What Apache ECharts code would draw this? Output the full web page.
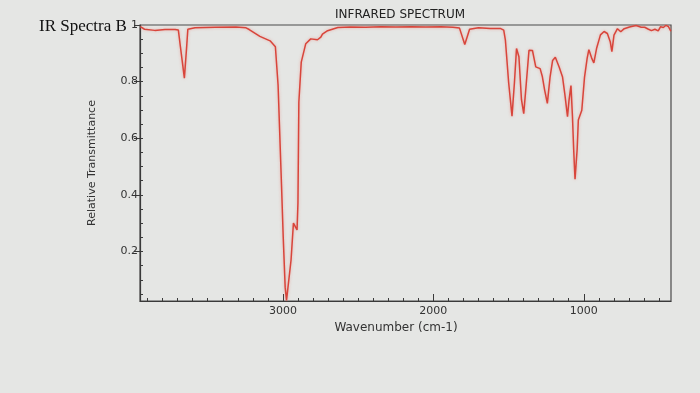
<!DOCTYPE html>
<html>
<head>
<meta charset="utf-8">
<script src="https://cdn.jsdelivr.net/npm/echarts@6/dist/echarts.min.js"></script>
<style>
  html, body { margin: 0; padding: 0; background: #e5e6e4; }
  #chart { width: 700px; height: 393px; }
</style>
</head>
<body>
<div id="chart"></div>
<script>
// Wavenumber (cm-1) and relative transmittance
const wavenumbers = [
  3948, 3920, 3852, 3784, 3717, 3695, 3681, 3655, 3640, 3632,
  3584, 3450, 3312, 3245, 3224, 3153, 3085, 3050, 3032, 3009,
  2998, 2985, 2976, 2964, 2946, 2930, 2919, 2906, 2900, 2897,
  2894, 2878, 2848, 2815, 2770, 2748, 2737, 2703, 2635, 2550,
  2450, 2350, 2250, 2150, 2050, 1950, 1870, 1826, 1791, 1759,
  1700, 1622, 1555, 1532, 1521, 1499, 1477, 1461, 1447, 1431,
  1414, 1399, 1382, 1364, 1341, 1319, 1290, 1275, 1260, 1242,
  1224, 1207, 1189, 1163, 1141, 1126, 1108, 1098, 1085, 1075,
  1067, 1058, 1044, 1036, 1025, 1013, 995, 977, 966, 948,
  933, 914, 889, 865, 843, 824, 813, 799, 776, 754,
  731, 696, 652, 618, 595, 573, 550, 527, 505, 489,
  471, 453, 437, 421
];
const transmittance = [
  0.994, 0.985, 0.981, 0.984, 0.984, 0.982, 0.922, 0.812, 0.922, 0.985,
  0.990, 0.992, 0.993, 0.990, 0.984, 0.960, 0.944, 0.923, 0.787, 0.430,
  0.252, 0.074, 0.027, 0.028, 0.169, 0.300, 0.305, 0.276, 0.371, 0.549,
  0.727, 0.869, 0.934, 0.951, 0.948, 0.957, 0.968, 0.980, 0.991, 0.993,
  0.992, 0.994, 0.993, 0.994, 0.993, 0.994, 0.992, 0.989, 0.931, 0.985,
  0.990, 0.988, 0.988, 0.982, 0.947, 0.795, 0.678, 0.795, 0.917, 0.888,
  0.736, 0.687, 0.794, 0.911, 0.910, 0.852, 0.846, 0.817, 0.770, 0.723,
  0.816, 0.875, 0.886, 0.851, 0.816, 0.757, 0.676, 0.734, 0.786, 0.676,
  0.560, 0.455, 0.560, 0.664, 0.670, 0.699, 0.815, 0.884, 0.913, 0.884,
  0.866, 0.919, 0.965, 0.977, 0.970, 0.941, 0.906, 0.964, 0.987, 0.976,
  0.987, 0.993, 0.998, 0.992, 0.992, 0.986, 0.980, 0.985, 0.979, 0.994,
  0.991, 0.999, 0.994, 0.978
];

const xTickLabels = [3000, 2000, 1000];
const yTickLabels = [0.2, 0.4, 0.6, 0.8, 1];
const yMinorTicks = [0.05, 0.1, 0.15, 0.2, 0.25, 0.3, 0.35, 0.4, 0.45, 0.5, 0.55, 0.6, 0.65, 0.7, 0.75, 0.8, 0.85, 0.9, 0.95];
const xMinorTicks = [];
for (let w = 500; w <= 3900; w += 100) xMinorTicks.push(w);

const X_MIN = 420, X_MAX = 3950, Y_MIN = 0.025, Y_MAX = 1;

const points = wavenumbers.map((w, i) => [w, transmittance[i]]);

const chart = echarts.init(document.getElementById('chart'), null, { renderer: 'canvas' });
const axisColor = '#3a3a3a';
const labelFont = { color: '#333', fontFamily: 'DejaVu Sans', fontSize: 11 };

chart.setOption({
  backgroundColor: '#e5e6e4',
  animation: false,
  grid: {
    left: 140, right: 29, top: 25, bottom: 92,
    show: true, borderColor: '#4a4a4a', borderWidth: 1.2, backgroundColor: 'transparent'
  },
  xAxis: [
    {
      type: 'value', min: X_MIN, max: X_MAX, inverse: true, position: 'bottom',
      axisLine: { show: true, onZero: false, lineStyle: { color: axisColor, width: 1.2 } },
      axisTick: { show: true, inside: true, length: 7, customValues: xTickLabels, lineStyle: { color: axisColor } },
      axisLabel: { show: true, customValues: xTickLabels, margin: 5, ...labelFont, formatter: v => String(Math.round(v)) },
      splitLine: { show: false }
    },
    {
      type: 'value', min: X_MIN, max: X_MAX, inverse: true, position: 'bottom', gridIndex: 0,
      axisLine: { show: false, onZero: false },
      axisTick: { show: true, inside: true, length: 3, customValues: xMinorTicks, lineStyle: { color: axisColor } },
      axisLabel: { show: false },
      splitLine: { show: false }
    }
  ],
  yAxis: [
    {
      type: 'value', min: Y_MIN, max: Y_MAX, position: 'left',
      axisLine: { show: true, onZero: false, lineStyle: { color: axisColor, width: 1.2 } },
      axisTick: { show: true, inside: false, length: 6, customValues: yTickLabels, lineStyle: { color: axisColor } },
      axisLabel: {
        show: true, customValues: yTickLabels, margin: 2, ...labelFont,
        formatter: v => (Math.abs(v - 1) < 1e-9 ? '1' : v.toFixed(1))
      },
      splitLine: { show: false }
    },
    {
      type: 'value', min: Y_MIN, max: Y_MAX, position: 'left',
      axisLine: { show: false, onZero: false },
      axisTick: { show: true, inside: true, length: 3, customValues: yMinorTicks, lineStyle: { color: axisColor } },
      axisLabel: { show: false },
      splitLine: { show: false }
    }
  ],
  series: [{
    type: 'line',
    xAxisIndex: 0, yAxisIndex: 0,
    data: points,
    showSymbol: false,
    smooth: false,
    clip: true,
    lineStyle: { color: '#d8453b', width: 1.5, shadowColor: 'rgba(235,130,120,0.6)', shadowBlur: 3 }
  }],
  graphic: [
    { type: 'text', x: 400, y: 15, style: { text: 'INFRARED SPECTRUM', fill: '#222', font: '12px "DejaVu Sans"', align: 'center', verticalAlign: 'middle' } },
    { type: 'text', x: 39, y: 27, style: { text: 'IR Spectra B', fill: '#111', font: '17px "Liberation Serif"', align: 'left', verticalAlign: 'middle' } },
    { type: 'text', x: 92, y: 163, rotation: Math.PI / 2, style: { text: 'Relative Transmittance', fill: '#333', font: '11px "DejaVu Sans"', align: 'center', verticalAlign: 'middle' } },
    { type: 'text', x: 396, y: 328, style: { text: 'Wavenumber (cm-1)', fill: '#333', font: '12px "DejaVu Sans"', align: 'center', verticalAlign: 'middle' } }
  ]
});
</script>
</body>
</html>
